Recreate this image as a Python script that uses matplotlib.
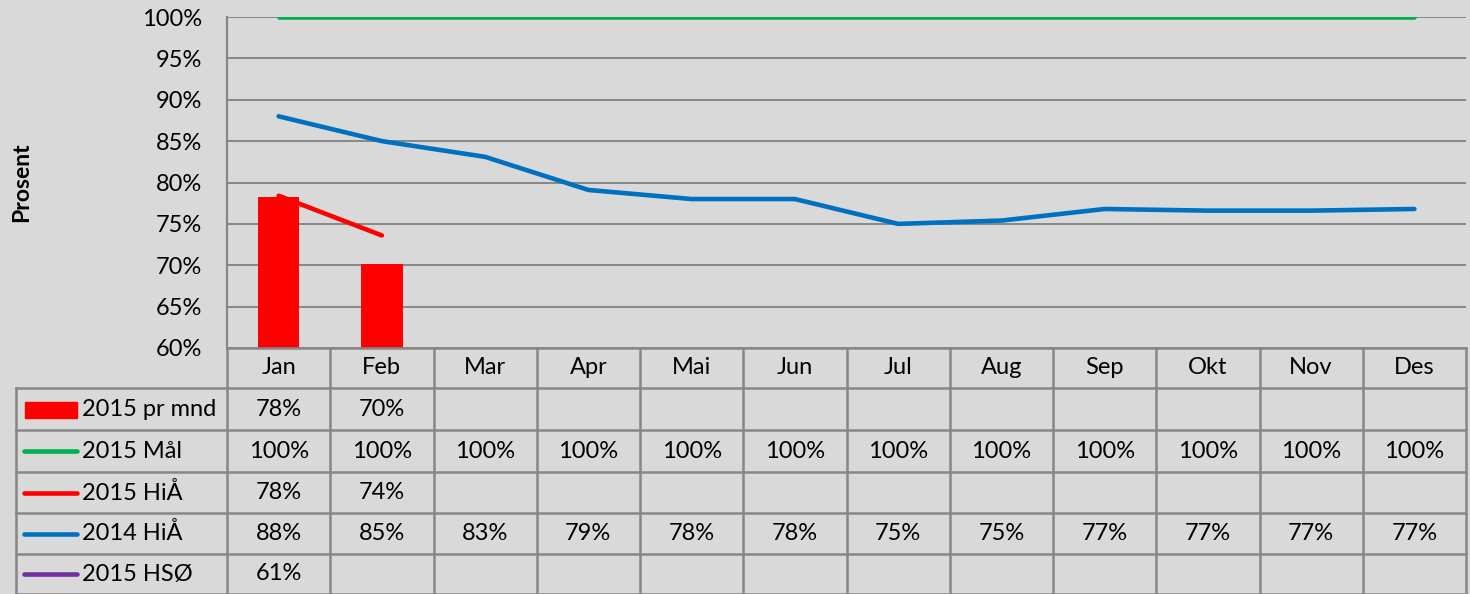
import matplotlib.pyplot as plt
from matplotlib.transforms import blended_transform_factory
from matplotlib.patches import Rectangle
from matplotlib.lines import Line2D

# data
months = ['Jan', 'Feb', 'Mar', 'Apr', 'Mai', 'Jun', 'Jul', 'Aug', 'Sep', 'Okt', 'Nov', 'Des']
pr_mnd_2015 = [78.2, 70.2]
maal_2015 = [100] * 12
hia_2015 = [78.4, 73.6]
hia_2014 = [88.0, 85.0, 83.1, 79.1, 78.0, 78.0, 75.0, 75.4, 76.8, 76.6, 76.6, 76.8]
hso_2015 = [61.0]

series_names = ['2015 pr mnd', '2015 Mål', '2015 HiÅ', '2014 HiÅ', '2015 HSØ']
series_vals = [pr_mnd_2015, maal_2015, hia_2015, hia_2014, hso_2015]
series_cols = ['#FF0000', '#00B050', '#FF0000', '#0070C0', '#7030A0']

bg = '#D9D9D9'
gridc = '#878787'
fs = 17
plt.rcParams['font.family'] = ['Lato', 'DejaVu Sans']

W, H = 1470, 594
fig = plt.figure(figsize=(W / 100, H / 100), dpi=100, facecolor=bg)

left, right, top, bottom = 227, 1466, 17, 348
ax = fig.add_axes([left / W, 1 - bottom / H, (right - left) / W, (bottom - top) / H])
ax.set_facecolor(bg)

x = list(range(12))
ax.bar(x[:len(pr_mnd_2015)], [v - 60 for v in pr_mnd_2015], bottom=60, width=0.4,
       color='#FF0000', zorder=3)
ax.plot(x, maal_2015, color='#00B050', lw=3.3, solid_capstyle='round', zorder=4)
ax.plot(x[:len(hia_2014)], hia_2014, color='#0070C0', lw=3.3, solid_capstyle='round', zorder=4)
ax.plot(x[:len(hia_2015)], hia_2015, color='#FF0000', lw=3.3, solid_capstyle='round', zorder=5)
ax.plot(x[:len(hso_2015)], hso_2015, color='#7030A0', lw=3.3, solid_capstyle='round', zorder=5)

ax.set_xlim(-0.5, 11.5)
ax.set_ylim(60, 100)
ax.set_yticks(range(60, 101, 5))
ax.set_yticklabels([f'{v}%' for v in range(60, 101, 5)], fontsize=fs)
ax.set_xticks([])
ax.tick_params(axis='y', length=0, pad=18)
ax.grid(axis='y', color=gridc, lw=1.4, zorder=1)
for s in ['top', 'right', 'bottom']:
    ax.spines[s].set_visible(False)
ax.spines['left'].set_color(gridc)
ax.spines['left'].set_linewidth(1.6)
ax.set_ylabel('Prosent', fontsize=16.5, fontweight='bold')
ax.yaxis.set_label_coords(-(left - 32) / (right - left), 0.5)

# data table below the axes, in pixel rows
tr = blended_transform_factory(ax.transData, fig.transFigure)
def fy(py):
    return 1 - py / H

row_edges = [348, 388, 430, 472, 513, 554, 594]
leg_left = -0.5 - (left - 16) / ((right - left) / 12)
lc = dict(color=gridc, lw=1.8, transform=tr, clip_on=False)

# horizontal lines
fig.add_artist(Line2D([-0.5, 11.5], [fy(row_edges[0])] * 2, **lc))
for py in row_edges[1:]:
    fig.add_artist(Line2D([leg_left, 11.5], [fy(py)] * 2, **lc))
# vertical lines
for i in range(13):
    fig.add_artist(Line2D([i - 0.5, i - 0.5], [fy(348), fy(594)], **lc))
fig.add_artist(Line2D([leg_left, leg_left], [fy(388), fy(594)], **lc))

# month header
for i, m in enumerate(months):
    fig.text(i, fy((row_edges[0] + row_edges[1]) / 2), m, transform=tr,
             ha='center', va='center', fontsize=fs)

# rows
for r, (name, vals, col) in enumerate(zip(series_names, series_vals, series_cols)):
    yc = fy((row_edges[r + 1] + row_edges[r + 2]) / 2)
    for i, v in enumerate(vals):
        fig.text(i, yc, f'{round(v):.0f}%', transform=tr, ha='center', va='center', fontsize=fs)
    fig.text(82 / W, yc, name, ha='left', va='center', fontsize=fs)
    if r == 0:
        fig.add_artist(Rectangle((25 / W, 1 - 418 / H), 52 / W, 16 / H, color=col))
    else:
        fig.add_artist(Line2D([24 / W, 77 / W], [yc, yc], color=col, lw=3.3,
                              solid_capstyle='round'))

fig.savefig('out.png', dpi=100, facecolor=bg)
